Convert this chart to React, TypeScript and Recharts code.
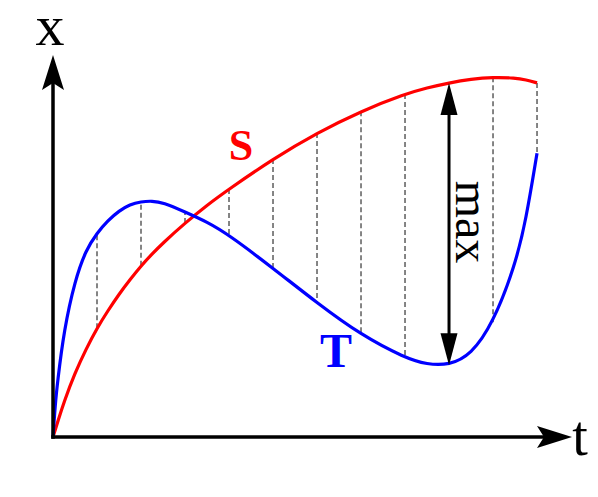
import React from 'react';
import { ComposedChart, Line, XAxis, YAxis, ReferenceLine, ReferenceDot } from 'recharts';

// sample times along the t axis
const times = [0, 0.05, 0.1, 0.25, 0.5, 0.75, 1, 1.25, 1.5, 1.75, 2, 2.25, 2.5, 3, 3.5, 4, 5, 6, 7, 8, 8.5, 9, 9.5, 10, 10.5, 10.75, 11];
// upper curve S
const sValues = [0, 0.18, 0.37, 0.92, 1.68, 2.3, 2.85, 3.31, 3.74, 4.12, 4.48, 4.79, 5.08, 5.6, 6.07, 6.49, 7.28, 7.96, 8.53, 8.98, 9.14, 9.27, 9.37, 9.42, 9.4, 9.35, 9.27];
// lower curve T
const tValues = [0, 0.84, 1.41, 2.8, 4.11, 4.9, 5.34, 5.67, 5.92, 6.09, 6.16, 6.18, 6.14, 5.89, 5.63, 5.29, 4.42, 3.51, 2.67, 2.07, 1.9, 1.88, 2.15, 2.98, 4.48, 5.68, 7.43];
// where the dashed drop lines sit, and where the max arrow goes
const dropTimes = [1, 2, 3, 4, 5, 6, 7, 8, 10, 11];
const maxTime = 9;

const X_MAX = 11.795;
const Y_MAX = 10;

const rows = times.map((t, i) => ({ t, S: sValues[i], T: tValues[i] }));
const valAt = (arr: number[], t: number) => arr[times.indexOf(t)];

const SERIF = '"Liberation Serif", "DejaVu Serif", serif';

const headPath = (x: number, y: number, ux: number, uy: number, len: number, half: number, notch: number) => {
  const px = -uy;
  const py = ux;
  const bx = x - ux * len;
  const by = y - uy * len;
  const nx = x - ux * notch;
  const ny = y - uy * notch;
  return `M${x},${y} L${bx + px * half},${by + py * half} L${nx},${ny} L${bx - px * half},${by - py * half} Z`;
};

const AxisArrow = (props: any) => {
  const { x1, y1, x2, y2 } = props;
  const d = Math.hypot(x2 - x1, y2 - y1);
  const ux = (x2 - x1) / d;
  const uy = (y2 - y1) / d;
  return (
    <g>
      <line x1={x1} y1={y1} x2={x2 - ux * 28} y2={y2 - uy * 28} stroke="#000" strokeWidth={3.5} strokeLinecap="square" />
      <path d={headPath(x2, y2, ux, uy, 35, 11, 28)} fill="#000" />
    </g>
  );
};

const MaxArrow = (props: any) => {
  const { x1, y1, x2, y2 } = props;
  const top = Math.min(y1, y2);
  const bot = Math.max(y1, y2);
  const mid = (top + bot) / 2;
  return (
    <g>
      <line x1={x1} y1={top + 25} x2={x1} y2={bot - 25} stroke="#000" strokeWidth={3} />
      <path d={headPath(x1, top, 0, -1, 32, 8.5, 32)} fill="#000" />
      <path d={headPath(x1, bot, 0, 1, 32, 8.5, 32)} fill="#000" />
      <text
        transform={`translate(${x1 + 7}, ${mid - 2}) rotate(90)`}
        textAnchor="middle"
        fontFamily={SERIF}
        fontSize={48}
        fill="#000"
      >
        max
      </text>
    </g>
  );
};

const label = (txt: string, color: string, size: number, bold: boolean, anchor: string) => (p: any) => (
  <text x={p.cx} y={p.cy} fill={color} fontFamily={SERIF} fontSize={size} fontWeight={bold ? 'bold' : 'normal'} textAnchor={anchor}>
    {txt}
  </text>
);

export default function App() {
  return (
    <div style={{ position: 'absolute', left: 0, top: 0, width: 598, height: 497, background: '#fff' }}>
      <ComposedChart width={598} height={497} data={rows} margin={{ top: 55, right: 26, bottom: 60, left: 53 }}>
        <XAxis dataKey="t" type="number" domain={[0, X_MAX]} hide />
        <YAxis type="number" domain={[0, Y_MAX]} hide />

        {dropTimes.map((t) => (
          <ReferenceLine
            key={t}
            segment={[{ x: t, y: valAt(sValues, t) }, { x: t, y: valAt(tValues, t) }]}
            stroke="#222"
            strokeWidth={1.1}
            strokeDasharray="5 3"
            ifOverflow="visible"
          />
        ))}

        <Line dataKey="S" type="basis" stroke="#ff0000" strokeWidth={3.2} dot={false} activeDot={false} isAnimationActive={false} />
        <Line dataKey="T" type="basis" stroke="#0000ff" strokeWidth={3.2} dot={false} activeDot={false} isAnimationActive={false} />

        <ReferenceLine segment={[{ x: 0, y: 0 }, { x: 0, y: Y_MAX }]} ifOverflow="visible" shape={AxisArrow} />
        <ReferenceLine segment={[{ x: 0, y: 0 }, { x: X_MAX, y: 0 }]} ifOverflow="visible" shape={AxisArrow} />

        <ReferenceLine
          segment={[{ x: maxTime, y: valAt(sValues, maxTime) }, { x: maxTime, y: valAt(tValues, maxTime) }]}
          ifOverflow="visible"
          shape={MaxArrow}
        />

        <ReferenceDot x={-0.07} y={10.26} r={0} ifOverflow="visible" shape={label('x', '#000', 58, false, 'middle')} />
        <ReferenceDot x={11.8} y={-0.47} r={0} ifOverflow="visible" shape={label('t', '#000', 56, false, 'start')} />
        <ReferenceDot x={4.27} y={7.25} r={0} ifOverflow="visible" shape={label('S', '#ff0000', 44, true, 'middle')} />
        <ReferenceDot x={6.43} y={1.83} r={0} ifOverflow="visible" shape={label('T', '#0000ff', 48, true, 'middle')} />
      </ComposedChart>
    </div>
  );
}
